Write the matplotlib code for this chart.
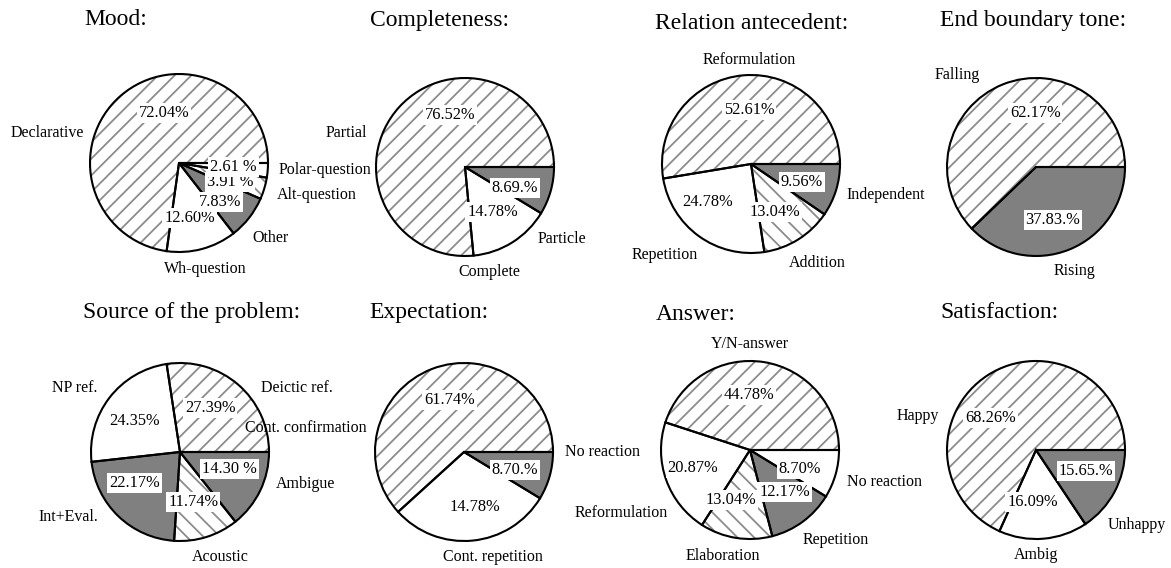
import matplotlib.pyplot as plt

plt.rcParams['font.family'] = ['Liberation Serif', 'DejaVu Serif']
plt.rcParams['hatch.linewidth'] = 1.3

# ---------------- data ----------------
titles = ['Mood:', 'Completeness:', 'Relation antecedent:', 'End boundary tone:',
          'Source of the problem:', 'Expectation:', 'Answer:', 'Satisfaction:']

mood_names = ['Declarative', 'Wh-question', 'Other', 'Alt-question', 'Polar-question']
mood_values = [72.04, 12.60, 7.83, 3.91, 2.61]
mood_pct = ['72.04%', '12.60%', '7.83%', '3.91 %', '2.61 %']

compl_names = ['Partial', 'Complete', 'Particle']
compl_values = [76.52, 14.78, 8.69]
compl_pct = ['76.52%', '14.78%', '8.69.%']

rel_names = ['Reformulation', 'Repetition', 'Addition', 'Independent']
rel_values = [52.61, 24.78, 13.04, 9.56]
rel_pct = ['52.61%', '24.78%', '13.04%', '9.56%']

tone_names = ['Falling', 'Rising']
tone_values = [62.17, 37.83]
tone_pct = ['62.17%', '37.83.%']

src_names = ['Deictic ref.', 'NP ref.', 'Int+Eval.', 'Acoustic', 'Ambigue']
src_values = [27.39, 24.35, 22.17, 11.74, 14.30]
src_pct = ['27.39%', '24.35%', '22.17%', '11.74%', '14.30 %']

# the white slice is drawn about twice as wide as its 14.78% label says
exp_names = ['Cont. confirmation', 'Cont. repetition', 'No reaction']
exp_values = [61.74, 29.56, 8.70]
exp_pct = ['61.74%', '14.78%', '8.70.%']

ans_names = ['Y/N-answer', 'Reformulation', 'Elaboration', 'Repetition', 'No reaction']
ans_values = [44.78, 20.87, 13.04, 12.17, 8.70]
ans_pct = ['44.78%', '20.87%', '13.04%', '12.17%', '8.70%']

sat_names = ['Happy', 'Ambig', 'Unhappy']
sat_values = [68.26, 16.09, 15.65]
sat_pct = ['68.26%', '16.09%', '15.65.%']

# ---------------- styles / layout ----------------
GRAY = '#808080'
HATCH_GRAY = '#8c8c8c'
FILL = {'fwd': 'white', 'back': 'white', 'white': 'white', 'gray': GRAY}
HATCH = {'fwd': '//', 'back': '\\\\', 'white': None, 'gray': None}

W, H = 1171, 568
R_PX = 89        # pie radius in pixels
HALF = 140       # half size of each axes box in pixels

panels = [
    dict(center=(179, 163), title=(-1.06, 1.61),
         names=mood_names, values=mood_values, pct=mood_pct,
         styles=['fwd', 'white', 'gray', 'back', 'white'],
         name_pos=[(-1.48, 0.34, 'center'), (0.29, -1.19, 'center'), (0.82, -0.84, 'left'),
                   (1.10, -0.36, 'left'), (1.12, -0.08, 'left')],
         pct_pos=[(-0.17, 0.56), (0.12, -0.62), (0.46, -0.44), (0.57, -0.21), (0.61, -0.04)]),
    dict(center=(465, 167), title=(-1.07, 1.65),
         names=compl_names, values=compl_values, pct=compl_pct,
         styles=['fwd', 'white', 'gray'],
         name_pos=[(-1.33, 0.38, 'center'), (0.27, -1.18, 'center'), (1.09, -0.81, 'center')],
         pct_pos=[(-0.17, 0.58), (0.31, -0.51), (0.56, -0.24)]),
    dict(center=(751, 164), title=(-1.08, 1.58),
         names=rel_names, values=rel_values, pct=rel_pct,
         styles=['fwd', 'white', 'back', 'gray'],
         name_pos=[(-0.02, 1.17, 'center'), (-0.97, -1.02, 'center'), (0.74, -1.11, 'center'),
                   (1.07, -0.35, 'left')],
         pct_pos=[(-0.02, 0.61), (-0.49, -0.43), (0.27, -0.54), (0.57, -0.20)]),
    dict(center=(1036, 167), title=(-1.08, 1.65),
         names=tone_names, values=tone_values, pct=tone_pct,
         styles=['fwd', 'gray'],
         name_pos=[(-0.88, 1.03, 'center'), (0.43, -1.17, 'center')],
         pct_pos=[(-0.01, 0.61), (0.19, -0.60)]),
    dict(center=(180, 452), title=(-1.09, 1.57),
         names=src_names, values=src_values, pct=src_pct,
         styles=['fwd', 'white', 'gray', 'back', 'gray'],
         name_pos=[(0.91, 0.72, 'left'), (-1.18, 0.72, 'center'), (-1.26, -0.73, 'center'),
                   (0.45, -1.18, 'center'), (1.08, -0.36, 'left')],
         pct_pos=[(0.34, 0.49), (-0.51, 0.35), (-0.51, -0.35), (0.15, -0.56), (0.56, -0.19)]),
    dict(center=(464, 452), title=(-1.06, 1.57),
         names=exp_names, values=exp_values, pct=exp_pct,
         styles=['fwd', 'white', 'gray'],
         name_pos=[(-2.46, 0.27, 'left'), (0.33, -1.18, 'center'), (1.13, 0.0, 'left')],
         pct_pos=[(-0.16, 0.58), (0.12, -0.62), (0.57, -0.20)]),
    dict(center=(750, 450), title=(-1.06, 1.52),
         names=ans_names, values=ans_values, pct=ans_pct,
         styles=['fwd', 'white', 'back', 'gray', 'white'],
         name_pos=[(0.0, 1.19, 'center'), (-0.92, -0.71, 'right'), (-0.30, -1.19, 'center'),
                   (0.96, -1.01, 'center'), (1.09, -0.36, 'left')],
         pct_pos=[(-0.01, 0.62), (-0.64, -0.20), (-0.22, -0.56), (0.39, -0.47), (0.56, -0.21)]),
    dict(center=(1036, 450), title=(-1.07, 1.54),
         names=sat_names, values=sat_values, pct=sat_pct,
         styles=['fwd', 'white', 'gray'],
         name_pos=[(-1.33, 0.38, 'center'), (0.0, -1.18, 'center'), (1.13, -0.84, 'center')],
         pct_pos=[(-0.51, 0.36), (-0.04, -0.58), (0.56, -0.24)]),
]

fig = plt.figure(figsize=(W / 100, H / 100), dpi=100)
lim = HALF / R_PX

for title, p in zip(titles, panels):
    cx, cy = p['center']
    ax = fig.add_axes([(cx - HALF) / W, (H - cy - HALF) / H, 2 * HALF / W, 2 * HALF / H])

    # filled + hatched layer (hatch takes the edge colour, so no edge line here)
    wedges, _ = ax.pie(p['values'], startangle=0, counterclock=True,
                       colors=[FILL[s] for s in p['styles']],
                       wedgeprops=dict(edgecolor=HATCH_GRAY, linewidth=0))
    for w, s in zip(wedges, p['styles']):
        if HATCH[s]:
            w.set_hatch(HATCH[s])
    # black outlines on top
    ax.pie(p['values'], startangle=0, counterclock=True,
           colors=['none'] * len(p['values']),
           wedgeprops=dict(edgecolor='black', linewidth=1.5))

    ax.set_xlim(-lim, lim)
    ax.set_ylim(-lim, lim)
    ax.axis('off')

    tx, ty = p['title']
    ax.text(tx, ty, title, ha='left', va='center', fontsize=17, clip_on=False)

    for name, (x, y, ha) in zip(p['names'], p['name_pos']):
        ax.text(x, y, name, ha=ha, va='center', fontsize=11.5, clip_on=False)

    for pct, (x, y) in zip(p['pct'], p['pct_pos']):
        ax.text(x, y, pct, ha='center', va='center', fontsize=11.8, clip_on=False,
                bbox=dict(boxstyle='square,pad=0.12', fc='white', ec='none'))

fig.savefig('out.png', dpi=100)
